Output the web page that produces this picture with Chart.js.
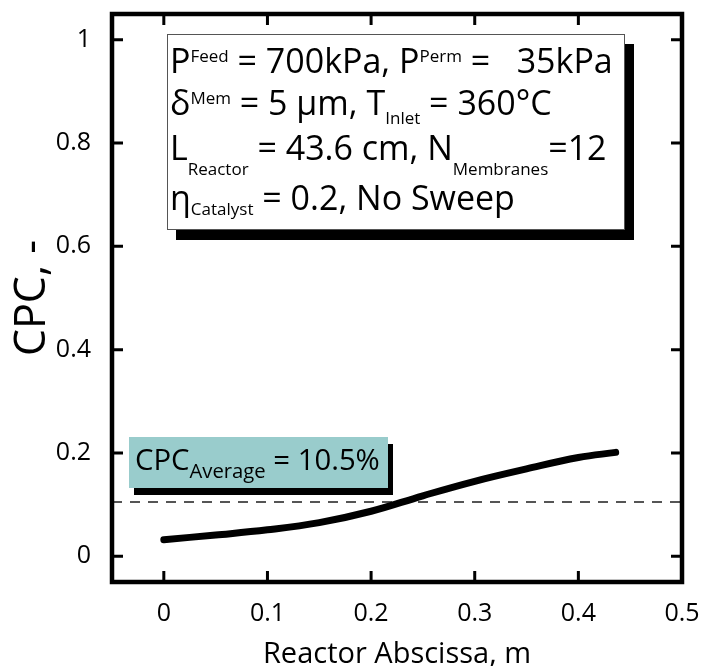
<!DOCTYPE html>
<html>
<head>
<meta charset="utf-8">
<script src="https://cdn.jsdelivr.net/npm/chart.js@4"></script>
<style>
  html, body { margin: 0; padding: 0; background: #fff; }
  canvas { display: block; }
</style>
</head>
<body>
<canvas id="cpcChart" width="702" height="666"></canvas>
<script>
const FONT = '"Open Sans", Lato, sans-serif';

// reactor abscissa (m) and local CPC along the membrane reactor
const abscissa = [0, 0.05, 0.1, 0.15, 0.2, 0.25, 0.3, 0.35, 0.4, 0.436];
const cpcValues = [0.032, 0.041, 0.051, 0.065, 0.087, 0.117, 0.145, 0.169, 0.191, 0.201];

// length-averaged CPC, drawn as the dashed reference line
const cpcAverage = 0.105;
const averageSpan = [-0.05, 0.5];

const xTicks = [0, 0.1, 0.2, 0.3, 0.4, 0.5];
const yTicks = [0, 0.2, 0.4, 0.6, 0.8, 1];

// text runs: n = normal, sup = superscript, sub = subscript
const infoLines = [
  [['P','n'],['Feed','sup'],[' = 700kPa, P','n'],['Perm','sup'],[' =   35kPa','n']],
  [['\u03B4','n'],['Mem','sup'],[' = 5 \u03BCm, T','n'],['Inlet','sub'],[' = 360\u00B0C','n']],
  [['L','n'],['Reactor','sub'],[' = 43.6 cm, N','n'],['Membranes','sub'],['=12','n']],
  [['\u03B7','n'],['Catalyst','sub'],[' = 0.2, No Sweep','n']]
];
const averageLine = [['CPC','n'],['Average','sub'],[' = ' + (cpcAverage * 100).toFixed(1) + '%','n']];

function runSize(k, big, sup, sub) {
  return k === 'n' ? big : (k === 'sup' ? sup : sub);
}

function runsWidth(ctx, runs, big, sup, sub) {
  let w = 0;
  runs.forEach(([t, k]) => {
    ctx.font = runSize(k, big, sup, sub) + 'px ' + FONT;
    w += ctx.measureText(t).width;
  });
  return w;
}

function drawRuns(ctx, runs, x, y, big, sup, sub, lift, drop) {
  ctx.textAlign = 'left';
  ctx.textBaseline = 'alphabetic';
  runs.forEach(([t, k]) => {
    ctx.font = runSize(k, big, sup, sub) + 'px ' + FONT;
    const dy = k === 'sup' ? -lift : (k === 'sub' ? drop : 0);
    ctx.fillText(t, x, y + dy);
    x += ctx.measureText(t).width;
  });
}

function shadowBox(ctx, x, y, w, h, off, fill, stroke) {
  ctx.fillStyle = '#000';
  ctx.fillRect(x + off[0], y + off[1], w, h);
  ctx.fillStyle = fill;
  ctx.fillRect(x, y, w, h);
  if (stroke) {
    ctx.strokeStyle = stroke;
    ctx.lineWidth = 1;
    ctx.strokeRect(x + 0.5, y + 0.5, w - 1, h - 1);
  }
}

const framePlugin = {
  id: 'frame',
  afterDatasetsDraw(chart) {
    const ctx = chart.ctx;
    const {left, top} = chart.chartArea;
    ctx.save();

    // parameter box, text sized so the first line fills the box
    const bx = left + 55, by = top + 20;
    shadowBox(ctx, bx, by, 458, 196, [9, 10], '#fff', '#555');
    ctx.fillStyle = '#000';
    const k1 = 443 / runsWidth(ctx, infoLines[0], 30, 15, 15);
    const baselines = [39, 81, 126, 176];
    const drops = [0, 9, 15, 5];
    infoLines.forEach((runs, i) => {
      drawRuns(ctx, runs, bx + 3, by + baselines[i], 30 * k1, 15 * k1, 15 * k1, 11, drops[i]);
    });

    // average box
    const ax = left + 17, ay = top + 423;
    shadowBox(ctx, ax, ay, 259, 51, [5, 7], '#99CCCC', null);
    ctx.fillStyle = '#000';
    const k2 = 245 / runsWidth(ctx, averageLine, 26, 18, 18);
    drawRuns(ctx, averageLine, ax + 6, ay + 33, 26 * k2, 18 * k2, 18 * k2, 0, 8);
    ctx.restore();
  },
  afterDraw(chart) {
    const ctx = chart.ctx;
    const {left, right, top, bottom} = chart.chartArea;
    const xs = chart.scales.x, ys = chart.scales.y;
    ctx.save();
    ctx.strokeStyle = '#000';
    ctx.lineWidth = 3;
    ctx.beginPath();
    // inward ticks on all four sides
    xTicks.forEach(v => {
      const px = xs.getPixelForValue(v);
      ctx.moveTo(px, bottom); ctx.lineTo(px, bottom - 11);
      ctx.moveTo(px, top); ctx.lineTo(px, top + 11);
    });
    yTicks.forEach(v => {
      const py = ys.getPixelForValue(v);
      ctx.moveTo(left, py); ctx.lineTo(left + 11, py);
      ctx.moveTo(right, py); ctx.lineTo(right - 11, py);
    });
    ctx.stroke();
    ctx.lineWidth = 4.5;
    ctx.strokeRect(left, top, right - left, bottom - top);
    ctx.restore();
  }
};

function noPad(s) {
  s.paddingTop = 0; s.paddingBottom = 0; s.paddingLeft = 0; s.paddingRight = 0;
}

new Chart(document.getElementById('cpcChart'), {
  type: 'line',
  data: {
    datasets: [
      {
        data: abscissa.map((x, i) => ({x: x, y: cpcValues[i]})),
        borderColor: '#000',
        borderWidth: 7,
        borderCapStyle: 'round',
        borderJoinStyle: 'round',
        pointRadius: 0,
        tension: 0.4,
        fill: false
      },
      {
        data: averageSpan.map(x => ({x: x, y: cpcAverage})),
        borderColor: '#555',
        borderWidth: 2,
        borderDash: [10, 8],
        pointRadius: 0,
        fill: false
      }
    ]
  },
  options: {
    responsive: false,
    animation: false,
    events: [],
    layout: { padding: { left: 0, top: 14, right: 20, bottom: 0 } },
    plugins: { legend: { display: false }, tooltip: { enabled: false } },
    scales: {
      x: {
        type: 'linear',
        min: -0.05,
        max: 0.5,
        afterFit: s => { s.height = 84; noPad(s); },
        afterBuildTicks: s => { s.ticks = xTicks.map(v => ({value: v})); },
        grid: { display: false },
        border: { display: false },
        ticks: {
          color: '#000',
          padding: 9,
          maxRotation: 0,
          font: { family: FONT, size: 25 },
          callback: v => String(v)
        },
        title: {
          display: true,
          text: 'Reactor Abscissa, m',
          color: '#000',
          font: { family: FONT, size: 29, lineHeight: 0.8 },
          padding: { top: 0, bottom: 0 }
        }
      },
      y: {
        min: -0.05,
        max: 1.05,
        afterFit: s => { s.width = 112; noPad(s); },
        afterBuildTicks: s => { s.ticks = yTicks.map(v => ({value: v})); },
        grid: { display: false },
        border: { display: false },
        ticks: {
          color: '#000',
          padding: 13,
          font: { family: FONT, size: 25 },
          callback: v => String(v)
        },
        title: {
          display: true,
          text: 'CPC, -',
          color: '#000',
          font: { family: FONT, size: 43, lineHeight: 0.8 },
          padding: { top: 16, bottom: 0 }
        }
      }
    }
  },
  plugins: [framePlugin]
});
</script>
</body>
</html>
